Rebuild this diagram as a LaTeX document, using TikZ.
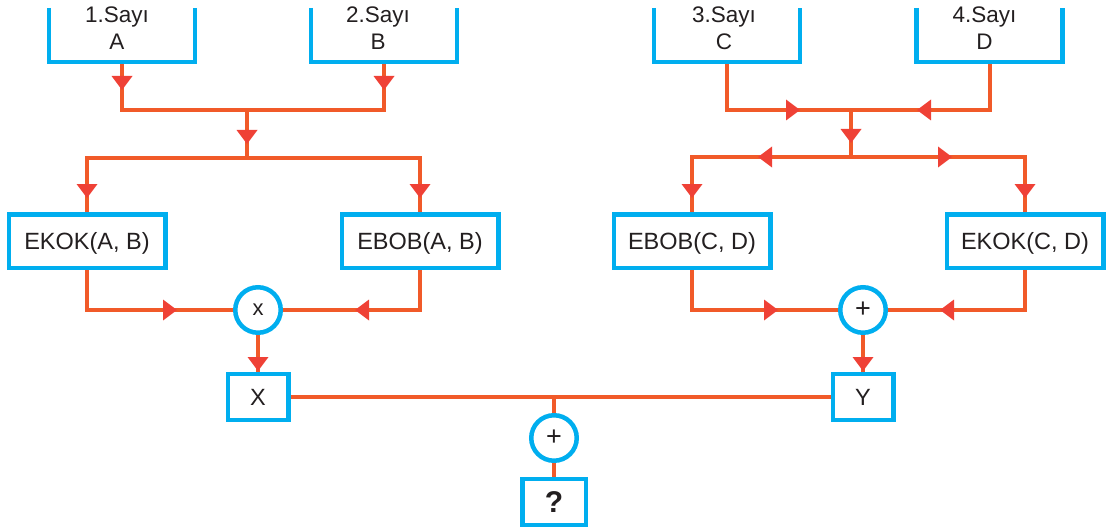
\documentclass[tikz,border=0pt]{standalone}
\usepackage{fontspec}
\setmainfont{Liberation Sans}
\definecolor{cblue}{HTML}{00AEEF}
\definecolor{corange}{HTML}{F15A29}
\definecolor{cred}{HTML}{EF4136}
\definecolor{ctext}{HTML}{231F20}
\pgfdeclarelayer{bg}
\pgfsetlayers{bg,main}
\begin{document}
\begin{tikzpicture}[x=1pt,y=-1pt,
  conn/.style={draw=corange,line width=4pt,line join=miter},
  topbox/.style={minimum width=146pt,minimum height=54pt,inner sep=0pt,draw=none},
  ushape/.style={draw=cblue,line width=4.5pt,line join=miter},
  toptext/.style={inner sep=0pt,align=center,text=ctext,font=\fontsize{22.5}{27}\selectfont},
  fbox/.style={draw=cblue,line width=4.5pt,fill=white,minimum width=156.5pt,minimum height=53.5pt,inner sep=0pt,text height=17pt,text depth=0pt,text=ctext,font=\fontsize{23.5}{28}\selectfont},
  vbox/.style={fbox,minimum width=60.5pt,minimum height=46pt},
  qbox/.style={draw=cblue,line width=4.5pt,fill=white,minimum width=63.5pt,minimum height=46pt,inner sep=0pt,text=ctext,font=\fontsize{30}{34}\selectfont\bfseries},
  opnode/.style={circle,draw=cblue,line width=4.5pt,fill=white,minimum size=45.5pt,inner sep=0pt,text=ctext,font=\fontsize{22}{26}\selectfont},
  plusnode/.style={opnode,font=\fontsize{27}{30}\selectfont},
  ahead/.pic={\fill[cred] (0,0) -- (-14,10.5) -- (-14,-10.5) -- cycle;}
]
\useasboundingbox (0,0) rectangle (1116,532);

% top input boxes
\node[topbox] (b1) at (122,35) {};
\node[toptext] (t1) at (117,28.3) {1.Sayı\\A};
\node[topbox] (b2) at (384,35) {};
\node[toptext] (t2) at (378,28.3) {2.Sayı\\B};
\node[topbox] (b3) at (727,35) {};
\node[toptext] (t3) at (724,28.3) {3.Sayı\\C};
\node[topbox] (b4) at (989.5,35) {};
\node[toptext] (t4) at (984.5,28.3) {4.Sayı\\D};
\foreach \b in {b1,b2,b3,b4}
  \draw[ushape] (\b.north west) -- (\b.south west) -- (\b.south east) -- (\b.north east);

% function boxes
\node[fbox] (ekAB) at (87,241) {EKOK(A, B)};
\node[fbox] (ebAB) at (420,241) {EBOB(A, B)};
\node[fbox] (ebCD) at (692,241) {EBOB(C, D)};
\node[fbox] (ekCD) at (1025,241) {EKOK(C, D)};

% operators
\node[opnode] (cx) at (258,310) {x};
\node[plusnode] (cp) at (863,310) {+};
\node[vbox] (X) at (258,397) {X};
\node[vbox] (Y) at (863,397) {Y};
\node[plusnode] (cq) at (554,438) {+};
\node[qbox] (q) at (554,502) {?};

% junctions
\coordinate (jAB) at (247,110);
\coordinate (sAB) at (247,158);
\coordinate (jCD) at (851,110);
\coordinate (sCD) at (851,157);
\coordinate (jXY) at (554,397);

\begin{pgfonlayer}{bg}
\draw[conn] (b1.south) |- (jAB) -| (b2.south);
\draw[conn] (jAB) -- (sAB);
\draw[conn] (ekAB.north) |- (sAB) -| (ebAB.north);
\draw[conn] (ekAB.south) |- (cx.west);
\draw[conn] (ebAB.south) |- (cx.east);
\draw[conn] (cx.south) -- (X.north);
\draw[conn] (b3.south) |- (jCD) -| (b4.south);
\draw[conn] (jCD) -- (sCD);
\draw[conn] (ebCD.north) |- (sCD) -| (ekCD.north);
\draw[conn] (ebCD.south) |- (cp.west);
\draw[conn] (ekCD.south) |- (cp.east);
\draw[conn] (cp.south) -- (Y.north);
\draw[conn] (X.east) -- (Y.west);
\draw[conn] (jXY) -- (cq.north);
\draw[conn] (cq.south) -- (q.north);
\end{pgfonlayer}

% arrowheads
\pic[rotate=-90] at (b1.south |- 0,90) {ahead};
\pic[rotate=-90] at (b2.south |- 0,90) {ahead};
\pic[rotate=-90] at (247,144) {ahead};
\pic[rotate=-90] at (ekAB.north |- 0,198) {ahead};
\pic[rotate=-90] at (ebAB.north |- 0,198) {ahead};
\pic at (177,310) {ahead};
\pic[rotate=180] at (355,310) {ahead};
\pic[rotate=-90] at (258,371) {ahead};
\pic at (800,110) {ahead};
\pic[rotate=180] at (917,110) {ahead};
\pic[rotate=-90] at (851,143) {ahead};
\pic[rotate=180] at (758,157) {ahead};
\pic at (952,157) {ahead};
\pic[rotate=-90] at (ebCD.north |- 0,198) {ahead};
\pic[rotate=-90] at (ekCD.north |- 0,198) {ahead};
\pic at (778,310) {ahead};
\pic[rotate=180] at (940,310) {ahead};
\pic[rotate=-90] at (863,371) {ahead};
\end{tikzpicture}
\end{document}
